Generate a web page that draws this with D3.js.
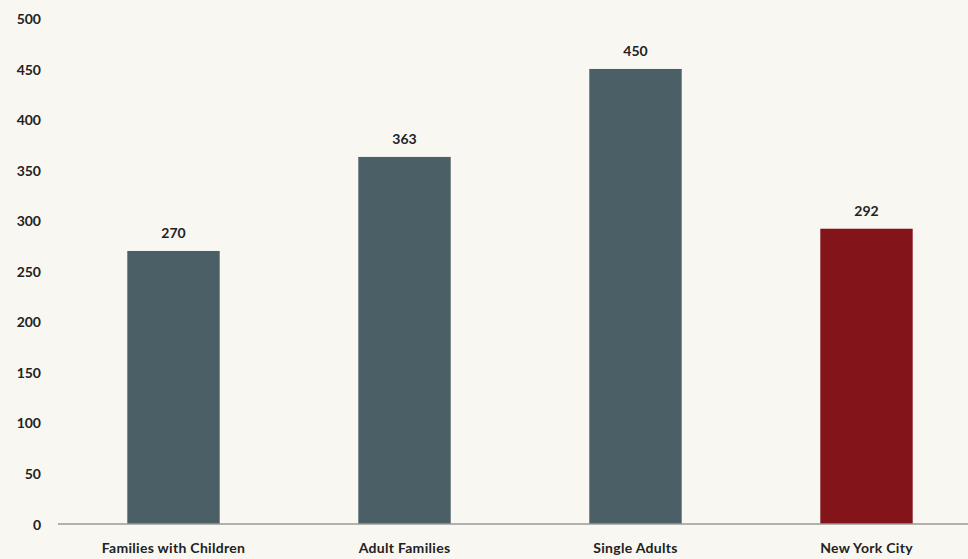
<!DOCTYPE html>
<html>
<head>
<meta charset="utf-8">
<script src="https://cdn.jsdelivr.net/npm/d3@7"></script>
<style>
    body { margin: 0; background: #f8f7f1; }
    svg { display: block; }
    .tick text { font-family: Lato, sans-serif; font-weight: 700; font-size: 14px; fill: #222; }
</style>
</head>
<body>
<div class="graph"></div>
<script>
var categories = ["Families with Children", "Adult Families", "Single Adults", "New York City"];
var values = [270, 363, 450, 292];
var colors = ["#4a5f66", "#4a5f66", "#4a5f66", "#83151a"];
var yTicks = [0, 50, 100, 150, 200, 250, 300, 350, 400, 450, 500];

var width = 968, height = 559;

var x = d3.scaleBand().domain(categories).range([58, 982]).paddingInner(0.6).paddingOuter(0.3);
var y = d3.scaleLinear().domain([0, 500]).range([524, 18.4]);

var svg = d3.select(".graph").append("svg")
    .attr("width", width)
    .attr("height", height);

svg.append("rect")
    .attr("width", width)
    .attr("height", height)
    .attr("fill", "#f8f7f1");

// y axis: labels only
var yAxis = svg.append("g")
    .attr("transform", "translate(41,0)")
    .call(d3.axisLeft(y).tickValues(yTicks).tickSize(0).tickPadding(0));
yAxis.select(".domain").remove();
yAxis.selectAll(".tick text").attr("dy", "0.36em");

svg.selectAll(".bar")
    .data(values)
    .enter().append("rect")
    .attr("class", "bar")
    .attr("x", function (d, i) { return x(categories[i]); })
    .attr("width", x.bandwidth())
    .attr("y", function (d) { return y(d); })
    .attr("height", function (d) { return y(0) - y(d); })
    .attr("fill", function (d, i) { return colors[i]; });

svg.selectAll(".val")
    .data(values)
    .enter().append("text")
    .attr("class", "val")
    .attr("x", function (d, i) { return x(categories[i]) + x.bandwidth() / 2; })
    .attr("y", function (d) { return y(d) - 13; })
    .attr("text-anchor", "middle")
    .style("font-family", "Lato, sans-serif")
    .style("font-weight", 700)
    .style("font-size", "14px")
    .style("fill", "#222")
    .text(function (d) { return d; });

// baseline
svg.append("line")
    .attr("x1", 58).attr("x2", 968)
    .attr("y1", y(0)).attr("y2", y(0))
    .attr("stroke", "#9a9a96")
    .attr("stroke-width", 1.5);

var xAxis = svg.append("g")
    .attr("transform", "translate(0," + y(0) + ")")
    .call(d3.axisBottom(x).tickSize(0).tickPadding(0));
xAxis.select(".domain").remove();
xAxis.selectAll(".tick text")
    .attr("y", 29)
    .attr("dy", 0)
    .style("font-size", "14px")
    .style("letter-spacing", "0.3px");
</script>
</body>
</html>
